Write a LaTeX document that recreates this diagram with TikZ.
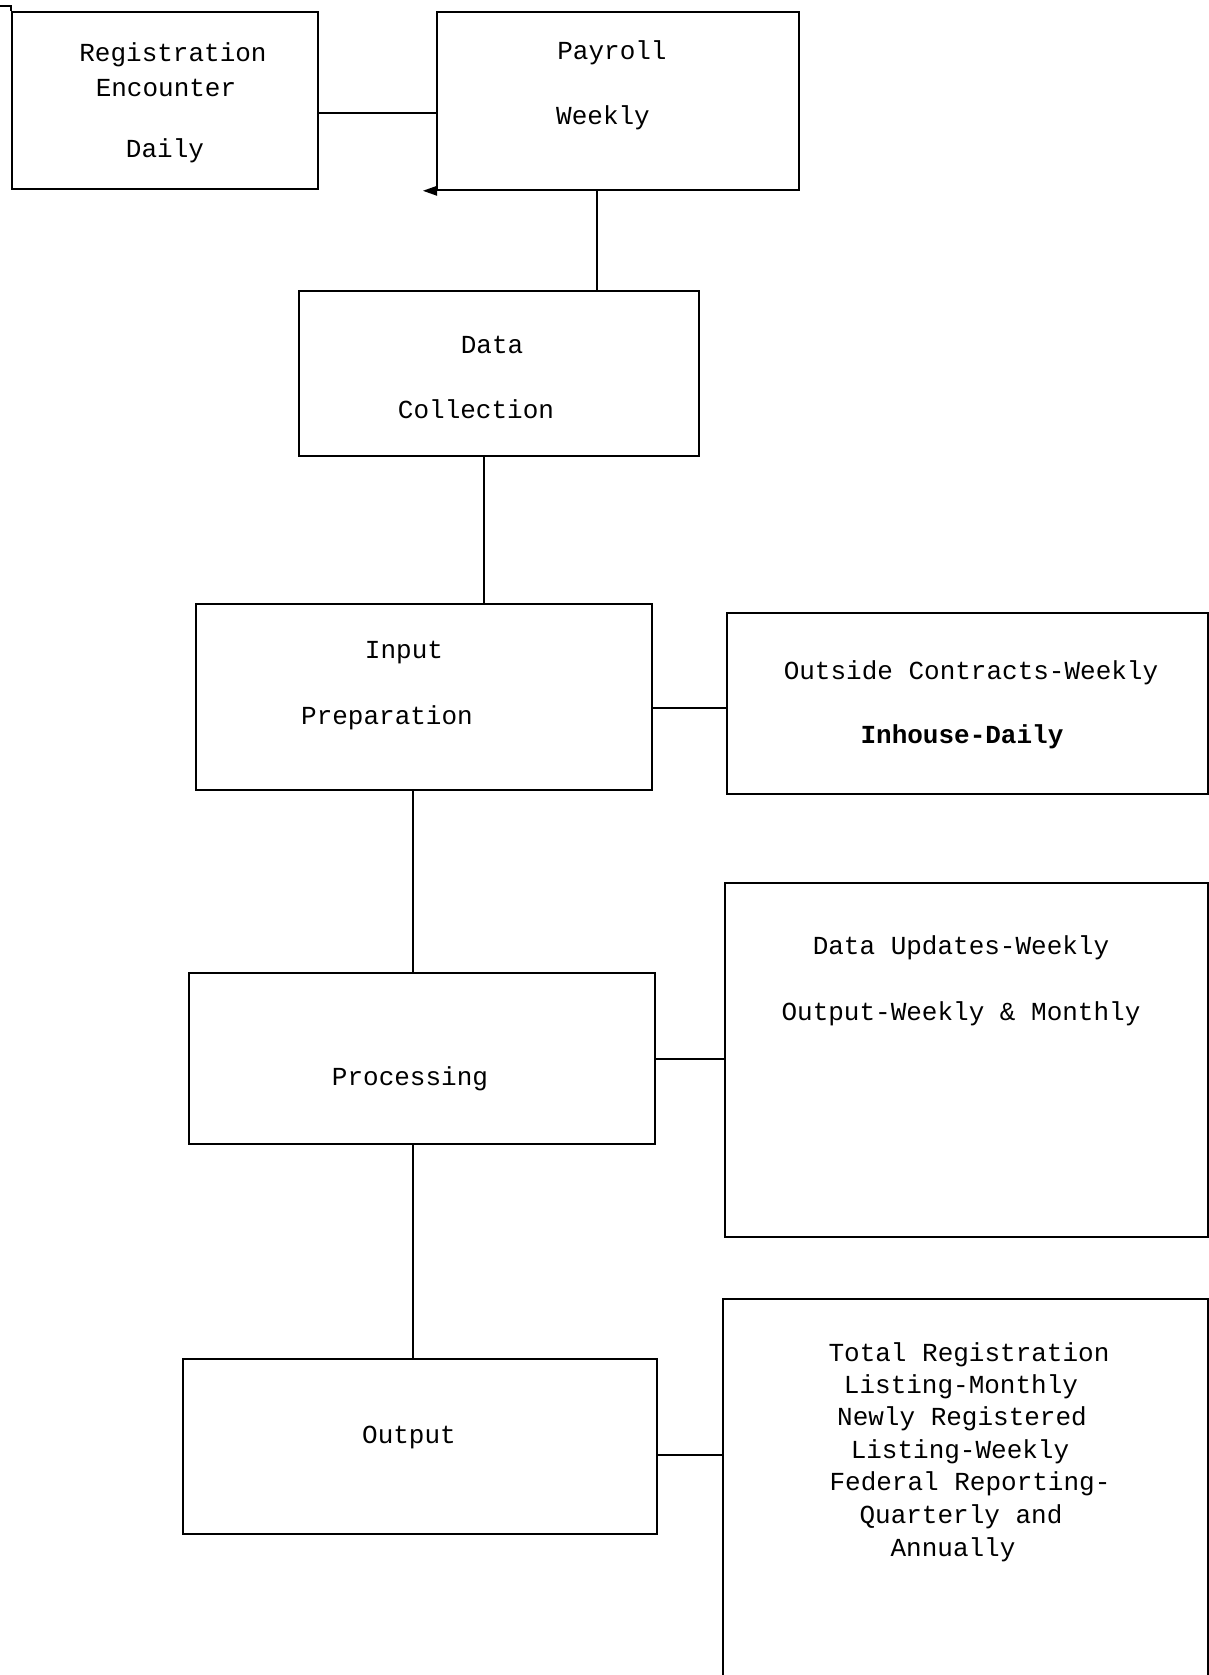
\documentclass[tikz,border=0pt]{standalone}
\usepackage{fontspec}
\setmonofont{Liberation Mono}
\begin{document}
\begin{tikzpicture}[x=1pt,y=-1pt,
  box/.style={draw,line width=1.8pt,anchor=north west,inner sep=0pt},
  txt/.style={font=\ttfamily\fontsize{26}{30}\selectfont,inner sep=0pt,anchor=center},
  link/.style={line width=1.8pt}]
\useasboundingbox (0,0) rectangle (1209,1675);
% boxes
\node[box,minimum width=306pt,minimum height=177pt] (reg) at (11,11) {};
\node[box,minimum width=362pt,minimum height=178pt] (pay) at (436,11) {};
\node[box,minimum width=400pt,minimum height=165pt] (dc) at (298,290) {};
\node[box,minimum width=456pt,minimum height=186pt] (inp) at (195,603) {};
\node[box,minimum width=481pt,minimum height=181pt] (outc) at (726,612) {};
\node[box,minimum width=466pt,minimum height=171pt] (proc) at (188,972) {};
\node[box,minimum width=483pt,minimum height=354pt] (upd) at (724,882) {};
\node[box,minimum width=474pt,minimum height=175pt] (outp) at (182,1358) {};
\node[box,minimum width=485pt,minimum height=377pt] (tot) at (722,1298) {};
% texts
\node[txt] (t1) at (173,55) {Registration};
\node[txt] (t2) at (166,88) {Encounter};
\node[txt] (t3) at (165,151) {Daily};
\node[txt] (t4) at (612,53) {Payroll};
\node[txt] (t5) at (603,118) {Weekly};
\node[txt] (t6) at (492,345) {Data};
\node[txt] (t7) at (476,409) {Collection};
\node[txt] (t8) at (404,653) {Input};
\node[txt] (t9) at (387,718) {Preparation};
\node[txt] (t10) at (971,673) {Outside Contracts-Weekly};
\node[txt,font=\ttfamily\bfseries\fontsize{26}{30}\selectfont] (t11) at (962,737) {Inhouse-Daily};
\node[txt] (t12) at (961,948) {Data Updates-Weekly};
\node[txt] (t13) at (961,1014) {Output-Weekly \& Monthly};
\node[txt] (t14) at (410,1079) {Processing};
\node[txt] (t15) at (409,1437) {Output};
\node[txt] (t16) at (969,1355) {Total Registration};
\node[txt] (t17) at (961,1387) {Listing-Monthly};
\node[txt] (t18) at (962,1419) {Newly Registered};
\node[txt] (t19) at (960,1452) {Listing-Weekly};
\node[txt] (t20) at (970,1484) {Federal Reporting-};
\node[txt] (t21) at (961,1517) {Quarterly and};
\node[txt] (t22) at (953,1550) {Annually};
% connectors
\draw[link] (reg.east |- 0,113) -- (pay.west |- 0,113);
\draw[link] (pay.south -| 597,0) -- (dc.north -| 597,0);
\draw[link] (dc.south -| 484,0) -- (inp.north -| 484,0);
\draw[link] (inp.east |- 0,708) -- (outc.west |- 0,708);
\draw[link] (inp.south -| 413,0) -- (proc.north -| 413,0);
\draw[link] (proc.east |- 0,1059) -- (upd.west |- 0,1059);
\draw[link] (proc.south -| 413,0) -- (outp.north -| 413,0);
\draw[link] (outp.east |- 0,1455) -- (tot.west |- 0,1455);
% small marks from the scan
\coordinate (pc) at (pay.south west);
\fill (pc) ++(1,-5) -- ++(-14,5) -- ++(14,5) -- cycle;
\draw[line width=1.8pt] (reg.north west) -- ++(0,-5) -- ++(-11,0);
\end{tikzpicture}
\end{document}
